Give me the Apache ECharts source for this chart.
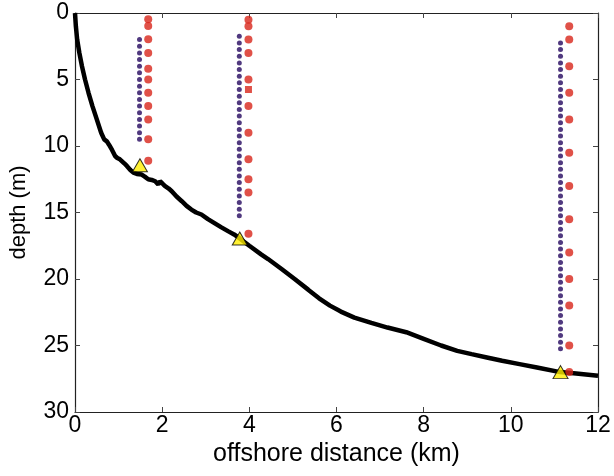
<!DOCTYPE html>
<html>
<head>
<meta charset="utf-8">
<script src="https://cdn.jsdelivr.net/npm/echarts@6/dist/echarts.min.js"></script>
<style>
  html, body { margin: 0; padding: 0; background: #fff; }
  #chart { width: 614px; height: 476px; }
</style>
</head>
<body>
<div id="chart"></div>
<script>
// seabed profile (offshore distance km, depth m)
const seabedDist = [0, 0.02, 0.05, 0.1, 0.16, 0.23, 0.31, 0.4, 0.5, 0.6, 0.67, 0.73, 0.78, 0.85, 0.92, 0.97,
    1.03, 1.07, 1.13, 1.19, 1.27, 1.34, 1.42, 1.53, 1.6, 1.68, 1.76, 1.84, 1.91, 1.95, 2.0, 2.06, 2.15, 2.22,
    2.33, 2.45, 2.56, 2.67, 2.78, 2.9, 3.05, 3.2, 3.35, 3.51, 3.65, 3.78, 4.0, 4.27, 4.43, 4.74, 5.04, 5.35,
    5.6, 5.85, 6.1, 6.41, 6.8, 7.17, 7.6, 8.0, 8.4, 8.77, 9.1, 9.45, 9.8, 10.2, 10.6, 11.13, 11.5, 12];
const seabedDepth = [0, 1.0, 2.0, 3.0, 4.0, 5.0, 6.0, 7.0, 8.0, 9.0, 9.5, 9.65, 9.9, 10.3, 10.75, 10.9,
    11.0, 11.0, 11.3, 11.5, 11.8, 12.0, 12.1, 12.15, 12.3, 12.5, 12.55, 12.65, 12.9, 12.65, 12.8, 13.0, 13.2, 13.4,
    13.8, 14.15, 14.5, 14.78, 15.0, 15.15, 15.5, 15.8, 16.1, 16.4, 16.65, 16.95, 17.5, 18.15, 18.5, 19.25, 20.0, 20.8,
    21.45, 22.0, 22.45, 22.9, 23.3, 23.65, 24.0, 24.5, 25.0, 25.4, 25.65, 25.9, 26.15, 26.4, 26.65, 27.0, 27.1, 27.27];

// moorings: bottom positions (triangles)
const moorDist = [1.49, 3.78, 11.14];
const moorDepth = [11.45, 16.96, 27.0];

// dense sensors (blue dots)
const blueDist = [1.48, 3.77, 11.14];
const blue1Depth = [2, 2.5, 3, 3.5, 4, 4.5, 5, 5.5, 6, 6.5, 7, 7.5, 8, 8.5, 9, 9.5];
const blue2Depth = [1.75, 2.25, 2.75, 3.25, 3.75, 4.25, 4.75, 5.25, 5.75, 6.25, 6.75, 7.25, 7.75, 8.25,
    8.75, 9.25, 9.75, 10.25, 10.75, 11.25, 11.75, 12.25, 12.75, 13.25, 13.75, 14.25, 14.75, 15.25];
const blue3Depth = [2.25, 2.75, 3.25, 3.75, 4.25, 4.75, 5.25, 5.75, 6.25, 6.75, 7.25, 7.75, 8.25, 8.75,
    9.25, 9.75, 10.25, 10.75, 11.25, 11.75, 12.25, 12.75, 13.25, 13.75, 14.25, 14.75, 15.25, 15.75, 16.25,
    16.75, 17.25, 17.75, 18.25, 18.75, 19.25, 19.75, 20.25, 20.75, 21.25, 21.75, 22.25, 22.75, 23.25, 23.75,
    24.25, 24.75, 25.25];

// sparse sensors (red dots)
const redDist = [1.68, 3.98, 11.34];
const red1Depth = [0.47, 0.98, 1.98, 3.0, 4.19, 5.0, 6.0, 7.0, 8.0, 9.5, 11.1];
const red2Depth = [0.5, 1.0, 2.0, 3.0, 5.0, 7.0, 9.0, 11.0, 12.5, 13.5, 16.6];
const red3Depth = [1, 2, 4, 6, 8, 10.5, 13, 15.5, 18, 20, 22, 25, 27];

// square sensor
const squareDist = [3.98];
const squareDepth = [5.75];

const xTicks = [0, 2, 4, 6, 8, 10, 12];
const yTicks = [0, 5, 10, 15, 20, 25, 30];

const FONT = "'Liberation Sans', Arial, sans-serif";

function pairs(xs, ys) {
    return ys.map((y, i) => [xs.length === 1 ? xs[0] : xs[i], y]);
}
function column(x, depths) {
    return depths.map(d => [x, d]);
}

const blueData = [].concat(
    column(blueDist[0], blue1Depth),
    column(blueDist[1], blue2Depth),
    column(blueDist[2], blue3Depth)
);
const redData = [].concat(
    column(redDist[0], red1Depth),
    column(redDist[1], red2Depth),
    column(redDist[2], red3Depth)
);

const axisLineStyle = { color: '#222', width: 1.2 };
const tickStyle = { show: true, inside: true, length: 5, lineStyle: { color: '#444', width: 1 } };

const chart = echarts.init(document.getElementById('chart'));
chart.setOption({
    animation: false,
    backgroundColor: '#fff',
    grid: { left: 73, right: 16, top: 13, bottom: 64, containLabel: false },
    xAxis: [{
        type: 'value', position: 'bottom', min: 0, max: 12, interval: 2,
        name: 'offshore distance (km)', nameLocation: 'middle', nameGap: 30,
        nameTextStyle: { fontFamily: FONT, fontSize: 25, color: '#000' },
        axisLine: { show: true, onZero: false, lineStyle: axisLineStyle },
        axisTick: tickStyle,
        axisLabel: { fontFamily: FONT, fontSize: 23, color: '#000', margin: 2,
            formatter: v => xTicks.includes(v) ? String(v) : '' },
        splitLine: { show: false }
    }, {
        type: 'value', position: 'top', min: 0, max: 12, interval: 2,
        axisLine: { show: true, onZero: false, lineStyle: axisLineStyle },
        axisTick: tickStyle,
        axisLabel: { show: false },
        splitLine: { show: false }
    }],
    yAxis: [{
        type: 'value', position: 'left', min: 0, max: 30, interval: 5, inverse: true,
        name: 'depth (m)', nameLocation: 'middle', nameGap: 45,
        nameTextStyle: { fontFamily: FONT, fontSize: 22, color: '#000' },
        axisLine: { show: true, onZero: false, lineStyle: axisLineStyle },
        axisTick: tickStyle,
        axisLabel: { fontFamily: FONT, fontSize: 23, color: '#000', margin: 6,
            formatter: v => yTicks.includes(v) ? String(v) : '' },
        splitLine: { show: false }
    }, {
        type: 'value', position: 'right', min: 0, max: 30, interval: 5, inverse: true,
        axisLine: { show: true, onZero: false, lineStyle: axisLineStyle },
        axisTick: tickStyle,
        axisLabel: { show: false },
        splitLine: { show: false }
    }],
    series: [{
        type: 'line',
        data: pairs(seabedDist, seabedDepth),
        showSymbol: false,
        lineStyle: { color: '#000', width: 4.5 },
        z: 2
    }, {
        type: 'scatter',
        data: blueData,
        symbol: 'circle', symbolSize: 5,
        itemStyle: { color: '#24085f' },
        z: 3
    }, {
        type: 'scatter',
        data: redData,
        symbol: 'circle', symbolSize: 8,
        itemStyle: { color: '#d8261a' },
        z: 3
    }, {
        type: 'scatter',
        data: pairs(squareDist, squareDepth),
        symbol: 'rect', symbolSize: 7,
        itemStyle: { color: '#d8261a' },
        z: 3
    }, {
        type: 'scatter',
        data: pairs(moorDist, moorDepth),
        symbol: 'triangle', symbolSize: [15, 13],
        itemStyle: { color: '#ffee00', borderColor: '#000', borderWidth: 1 },
        z: 4
    }]
});
</script>
</body>
</html>
